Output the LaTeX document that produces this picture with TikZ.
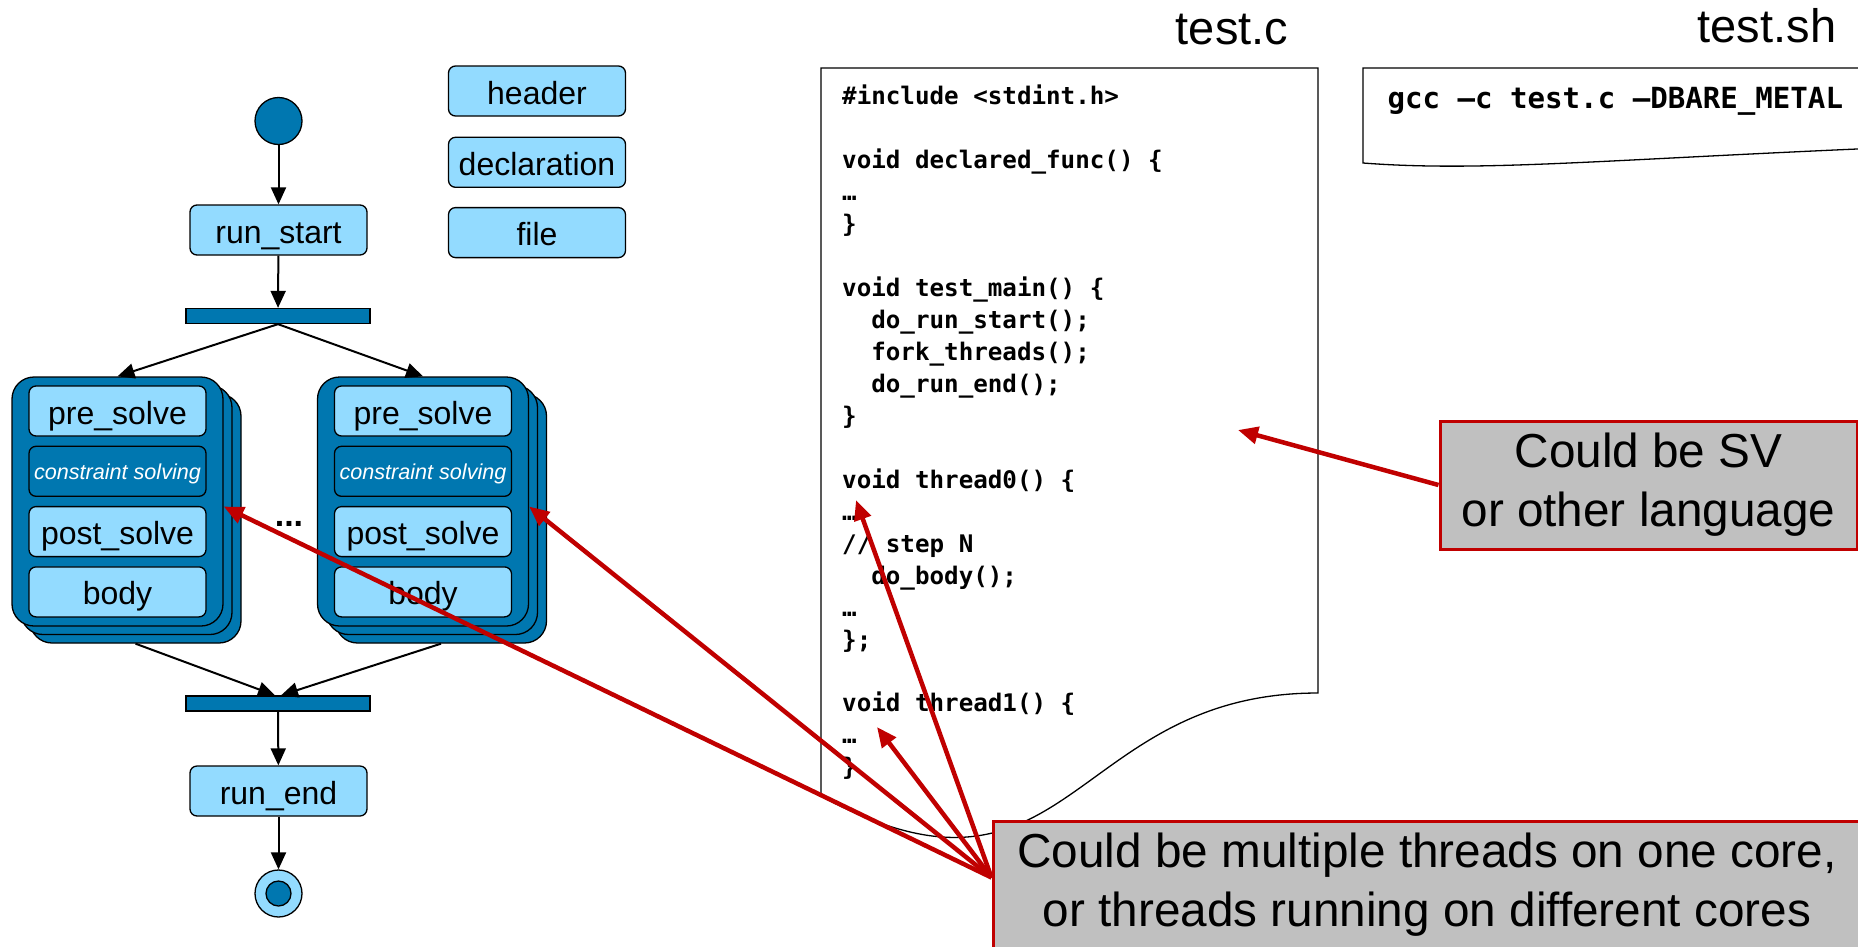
\documentclass[tikz,border=0pt]{standalone}
\usepackage{fontspec}
\setmainfont{Liberation Sans}
\setmonofont{DejaVu Sans Mono}
\usetikzlibrary{arrows.meta, positioning}
\definecolor{ublue}{RGB}{0,119,176}
\definecolor{ulight}{RGB}{147,219,255}
\definecolor{cred}{RGB}{192,0,0}
\definecolor{cgray}{RGB}{192,192,192}
\newcommand{\srcfont}{\fontsize{24.2}{31.95}\selectfont\ttfamily\bfseries}

\begin{document}
\begin{tikzpicture}[x=1pt, y=-1pt,
  act/.style={draw, line width=1.3pt, rounded corners=7pt, fill=#1,
              minimum width=177pt, minimum height=50pt, inner sep=2pt,
              text height=27pt, text depth=1pt, font=\fontsize{32}{38}\selectfont},
  act/.default=ulight,
  card/.style={draw, line width=1.3pt, rounded corners=22pt, fill=ublue,
               minimum width=211pt, minimum height=249pt},
  bar/.style={draw, line width=1.3pt, fill=ublue, minimum width=184pt,
              minimum height=15pt, inner sep=0pt},
  dot/.style={circle, draw, line width=1.3pt, fill=#1, inner sep=0pt},
  arr/.style={-{Triangle[length=17pt,width=15pt]}, line width=2pt},
  note/.style={draw=cred, line width=3pt, fill=cgray, align=center,
               font=\fontsize{47.7}{59}\selectfont},
  warn/.style={-{Triangle[length=20pt,width=17pt]}, line width=4.5pt, draw=cred}
]
\path[use as bounding box, clip] (0,0) rectangle (1858,946);

% activity flow
\node[dot=ublue, minimum size=47pt] (start) at (278.5,121) {};
\node[act] (runstart) at (278.5,230) {run\_start};
\node[bar] (fork) at (278,316) {};
\foreach \s/\x in {L/117.5, R/423} {
  \node[card] (back\s) at (\x+18,518.5) {};
  \node[card] (mid\s) at (\x+9,510) {};
  \node[card] (card\s) at (\x,501.5) {};
  \node[act, anchor=north] (pre\s) at ([yshift=-9pt]card\s.north) {pre\_solve};
  \node[act=ublue, below=9pt of pre\s, text=white, text height=18pt, text depth=2pt,
        font=\fontsize{21.6}{26}\selectfont\itshape] (cons\s) {constraint solving};
  \node[act, below=9pt of cons\s] (post\s) {post\_solve};
  \node[act, below=9pt of post\s] (body\s) {body};
  \draw[arr] (fork.south) -- (card\s.north);
}
\node[font=\fontsize{34}{38}\selectfont\bfseries] (more) at (289,524) {...};
\node[bar] (join) at (278,703.5) {};
\node[act] (runend) at (278.5,791) {run\_end};
\node[dot=ulight, minimum size=47pt] (stop) at (278.5,893.5) {};
\node[dot=ublue, minimum size=25pt] (stopdot) at (stop) {};

\draw[arr] (start) -- (runstart);
\draw[arr] (runstart) -- (fork);
\draw[arr] (backL.south) -- ([xshift=-3pt]join.north);
\draw[arr] (backR.south) -- ([xshift=3pt]join.north);
\draw[arr] (join) -- (runend);
\draw[arr] (runend) -- (stop);

% legend
\node[act] (header) at (537,91) {header};
\node[act, below=20pt of header] (decl) {declaration};
\node[act, below=19pt of decl] (file) {file};

% test.c
\node[font=\fontsize{47}{56}\selectfont] (cname) at (1232,30) {test.c};
\draw[line width=1.3pt] (821,68) -- (1318,68) -- (1318,693)
  .. controls (1069.5,693) and (1069.5,931) .. (821,796) -- cycle;
\node[anchor=north west, inner sep=0pt, align=left, font=\srcfont] (code) at (842,85) {%
\#include <stdint.h>\\
~\\
void declared\_func() \{\\
…\\
\}\\
~\\
void test\_main() \{\\
\phantom{xx}do\_run\_start();\\
\phantom{xx}fork\_threads();\\
\phantom{xx}do\_run\_end();\\
\}\\
~\\
void thread0() \{\\
…\\
// step N\\
\phantom{xx}do\_body();\\
…\\
\};\\
~\\
void thread1() \{\\
…\\
\}};
\coordinate (tc) at (1238,430);
\coordinate (thr0) at (856,500);
\coordinate (thr1) at (877,727);

% test.sh
\node[font=\fontsize{47}{56}\selectfont] (shname) at (1767,26) {test.sh};
\draw[line width=1.3pt] (1363,68) -- (1880,68) -- (1880,148)
  .. controls (1600,160) and (1480,172) .. (1363,163) -- cycle;
\node[anchor=west, font=\fontsize{29.1}{35}\selectfont\ttfamily\bfseries] (gcc) at (1384,101)
  {gcc –c test.c –DBARE\_METAL};

% callouts
\node[note, minimum width=417pt, minimum height=128pt] (sv) at (1648.5,485)
  {Could be SV\\or other language};
\node[note, minimum width=868pt, minimum height=127pt] (multi) at (1427,884.5)
  {Could be multiple threads on one core,\\or threads running on different cores};
\coordinate (src) at ([yshift=-58pt]multi.north west);

\draw[warn] (sv.west) -- (tc);
\draw[warn] (src) -- ([yshift=-5pt]cardL.east);
\draw[warn] (src) -- ([yshift=-5pt]cardR.east);
\draw[warn] (src) -- (thr0);
\draw[warn] (src) -- (thr1);
\end{tikzpicture}
\end{document}
